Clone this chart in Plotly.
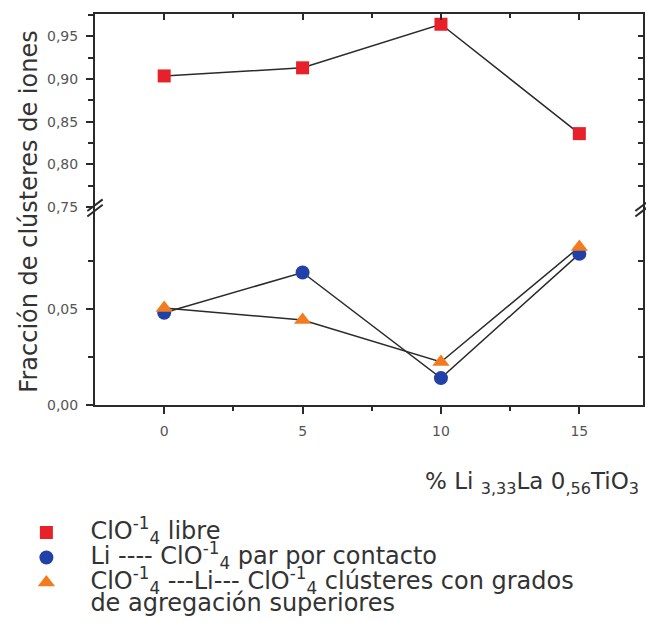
import plotly.graph_objects as go

x_vals = [0, 5, 10, 15]
libre = [0.9035, 0.913, 0.964, 0.836]
par_contacto = [0.048, 0.069, 0.014, 0.0787]
clusteres = [0.0505, 0.0443, 0.0224, 0.0823]

BIG = '<span style="font-size:24px">{}</span>'
names = [
    BIG.format("ClO<sup>-1</sup><sub>4</sub> libre"),
    BIG.format("Li ---- ClO<sup>-1</sup><sub>4</sub> par por contacto"),
    BIG.format("ClO<sup>-1</sup><sub>4</sub> ---Li--- ClO<sup>-1</sup><sub>4</sub> clústeres con grados")
    + "<br>" + BIG.format("de agregación superiores"),
]
colors = ["#e8202a", "#2140a8", "#f27b20"]
symbols = ["square", "circle", "triangle-up"]
sizes = [13, 14, 15]
series = [libre, par_contacto, clusteres]
yaxes = ["y2", "y", "y"]

FONT = "DejaVu Sans"
LINE = "#2a2a2a"
xr = [-2.5, 17.3]
yr_low = [0, 0.1026]
yr_high = [0.749, 0.976]
split = 0.504

fig = go.Figure()
for s, ya in zip(series, yaxes):
    fig.add_trace(go.Scatter(x=x_vals, y=s, xaxis="x", yaxis=ya, mode="lines",
                             showlegend=False, hoverinfo="skip",
                             line=dict(color=LINE, width=1.5)))
for s, ya, nm, c, sym, sz in zip(series, yaxes, names, colors, symbols, sizes):
    fig.add_trace(go.Scatter(x=x_vals, y=s, xaxis="x", yaxis=ya, name=nm,
                             mode="markers",
                             marker=dict(symbol=sym, size=sz, color=c)))

# empty traces so the frame axes (top / right) get drawn
fig.add_trace(go.Scatter(x=[None], y=[None], xaxis="x3", yaxis="y2", showlegend=False, hoverinfo="skip"))
fig.add_trace(go.Scatter(x=[None], y=[None], xaxis="x", yaxis="y3", showlegend=False, hoverinfo="skip"))
fig.add_trace(go.Scatter(x=[None], y=[None], xaxis="x", yaxis="y4", showlegend=False, hoverinfo="skip"))

tickfont = dict(family=FONT, size=14, color="#555")
ax_common = dict(showline=True, linecolor=LINE, linewidth=2, showgrid=False, zeroline=False)

fig.update_layout(
    width=646, height=623,
    margin=dict(l=95, r=3, t=14, b=218, autoexpand=False),
    paper_bgcolor="white", plot_bgcolor="white",
    separators=",.",
    font=dict(family=FONT, color="#333"),
    xaxis=dict(domain=[0, 1], anchor="y", range=xr, tickvals=[0, 5, 10, 15],
               ticks="outside", ticklen=7, tickwidth=2, tickcolor=LINE,
               ticklabelstandoff=5, tickfont=tickfont,
               minor=dict(tickvals=[2.5, 7.5, 12.5], ticks="outside", ticklen=4,
                          tickwidth=2, tickcolor=LINE),
               **ax_common),
    xaxis3=dict(overlaying="x", anchor="y2", side="top", range=xr,
                tickvals=[0, 5, 10, 15], showticklabels=False,
                ticks="inside", ticklen=6, tickwidth=2, tickcolor=LINE,
                minor=dict(tickvals=[2.5, 7.5, 12.5], ticks="inside", ticklen=4,
                           tickwidth=2, tickcolor=LINE),
                **ax_common),
    yaxis=dict(domain=[0, split], anchor="x", range=yr_low, tickvals=[0, 0.05],
               tickformat=".2f", ticks="outside", ticklen=7, tickwidth=2,
               tickcolor=LINE, tickfont=tickfont, ticklabelstandoff=5,
               minor=dict(tickvals=[0.025, 0.075], ticks="outside", ticklen=5,
                          tickwidth=2, tickcolor=LINE),
               **ax_common),
    yaxis2=dict(domain=[split, 1], anchor="x", range=yr_high,
                tickvals=[0.75, 0.80, 0.85, 0.90, 0.95], tickformat=".2f",
                ticks="outside", ticklen=7, tickwidth=2, tickcolor=LINE,
                tickfont=tickfont, ticklabelstandoff=5,
                minor=dict(tickvals=[0.775, 0.825, 0.875, 0.925, 0.975], ticks="outside",
                           ticklen=5, tickwidth=2, tickcolor=LINE),
                **ax_common),
    yaxis3=dict(overlaying="y", anchor="x", side="right", range=yr_low,
                tickvals=[0, 0.025, 0.05, 0.075], showticklabels=False,
                ticks="inside", ticklen=5, tickwidth=2, tickcolor=LINE, **ax_common),
    yaxis4=dict(overlaying="y2", anchor="x", side="right", range=yr_high,
                tickvals=[0.775, 0.80, 0.825, 0.85, 0.875, 0.90, 0.925, 0.95],
                showticklabels=False,
                ticks="inside", ticklen=5, tickwidth=2, tickcolor=LINE, **ax_common),
    showlegend=True,
    legend=dict(x=-0.169, y=-0.281, xanchor="left", yanchor="top",
                font=dict(family=FONT, size=17, color="#333"),
                itemwidth=78, traceorder="normal", valign="top",
                bgcolor="rgba(0,0,0,0)"),
)

# y axis title
fig.add_annotation(text="Fracción de clústeres de iones", xref="paper", yref="paper",
                   x=-0.15, y=0.494, textangle=-90, showarrow=False,
                   font=dict(family=FONT, size=24, color="#333"))
# x axis title
fig.add_annotation(text="% Li <sub>3,33</sub>La 0<sub>,56</sub>TiO<sub>3</sub>",
                   xref="paper", yref="paper", x=0.997, y=-0.2, xanchor="right",
                   yanchor="middle", showarrow=False,
                   font=dict(family=FONT, size=23, color="#333"))

# axis-break marks
for xb in [0.0, 1.0]:
    for dy in [-0.007, 0.007]:
        fig.add_shape(type="line", xref="paper", yref="paper",
                      x0=xb - 0.014, x1=xb + 0.014,
                      y0=split - 0.015 + dy, y1=split + 0.015 + dy,
                      line=dict(color=LINE, width=2))

fig.write_html("out.html", config={"displayModeBar": False},
               post_script="document.body.style.margin='0';")
